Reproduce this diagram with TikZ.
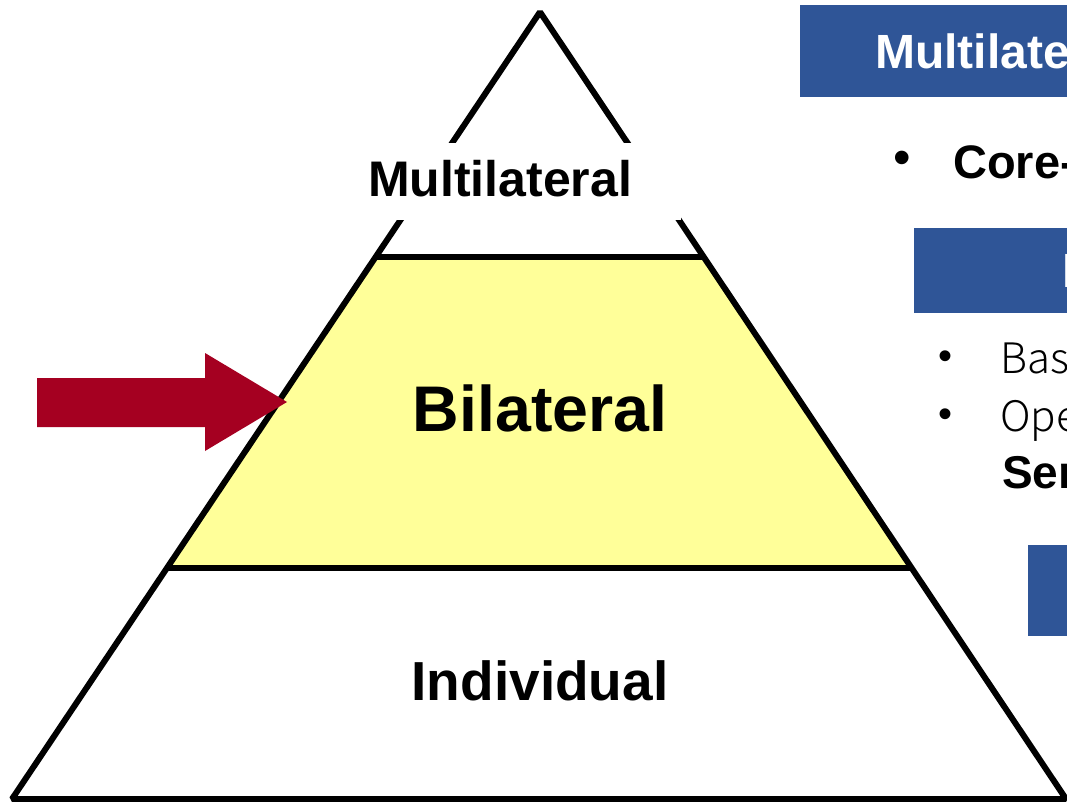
\documentclass[tikz,border=0pt]{standalone}
\usepackage{fontspec}
\setmainfont{Liberation Sans}
\newfontfamily\lightfont{Noto Sans CJK JP Light}
\usetikzlibrary{positioning}

\definecolor{boxblue}{HTML}{2F5597}
\definecolor{layeryellow}{HTML}{FFFF99}
\definecolor{arrowred}{HTML}{A50021}

\begin{document}
\begin{tikzpicture}[
		x=1pt, y=-1pt,
		edge/.style = {line width=6pt, line join=bevel},
		layer/.style = {font=\fontsize{#1}{#1}\selectfont\bfseries, inner sep=0pt},
		bluebox/.style = {fill=boxblue, text=white, anchor=north west, inner ysep=0pt,
			font=\fontsize{48}{48}\selectfont\bfseries},
		bullet/.style = {inner sep=0pt, font=\fontsize{#1}{#1}\selectfont}
	]
	\useasboundingbox (0,0) rectangle (1067,802);
	\clip (0,0) rectangle (1067,802);
	% Pyramid corners.
	\coordinate (top) at (540,12);
	\coordinate (bl) at (12,799);
	\coordinate (br) at (1066,799);
	\coordinate (ul) at (375.8,257);
	\coordinate (ur) at (704.2,257);
	\coordinate (ll) at (169.1,568);
	\coordinate (lr) at (910.9,568);
	% Middle layer.
	\fill[layeryellow] (ul) -- (ur) -- (lr) -- (ll) -- cycle;
	\draw[edge] (top) -- (bl) -- (br) -- cycle;
	\draw[edge] (ul) -- (ur);
	\draw[edge] (ll) -- (lr);
	% Layer labels.
	\fill[white] (355,143) rectangle (681,220);
	\node[layer=50, anchor=base] (multi) at (500,197) {Multilateral};
	\node[layer=64.5, anchor=base] (bi) at (540,431) {Bilateral};
	\node[layer=55, anchor=base] (indiv) at (540,700) {Individual};
	% Arrow.
	\coordinate (tip) at (287,402);
	\fill[arrowred] (37,378) -- (205,378) -- (205,353) -- (tip)
		-- (205,451) -- (205,427) -- (37,427) -- cycle;
	% Right column.
	\node[bluebox, minimum height=92pt, inner xsep=75pt] (mbox) at (800,5) {Multilate};
	\node[bullet=50] (b1) at (902,163) {\textbullet};
	\node[bullet=47, font=\fontsize{47}{47}\selectfont\bfseries, anchor=base west] (core) at (953,179) {Core-};
	\node[bluebox, minimum height=85pt, inner xsep=148pt] (bbox) at (914,228) {B};
	\node[bullet=40] (b2) at (945,360) {\textbullet};
	\node[bullet=42, anchor=base west] (bas) at (1000,373) {\lightfont Bas};
	\node[bullet=40] (b3) at (945,418) {\textbullet};
	\node[bullet=42, anchor=base west] (ope) at (1000,431) {\lightfont Ope};
	\node[bullet=46, font=\fontsize{46}{46}\selectfont\bfseries, anchor=base west] (ser) at (1002,488) {Ser};
	\node[bluebox, minimum height=91pt, minimum width=60pt] (ibox) at (1028,545) {};
\end{tikzpicture}
\end{document}
